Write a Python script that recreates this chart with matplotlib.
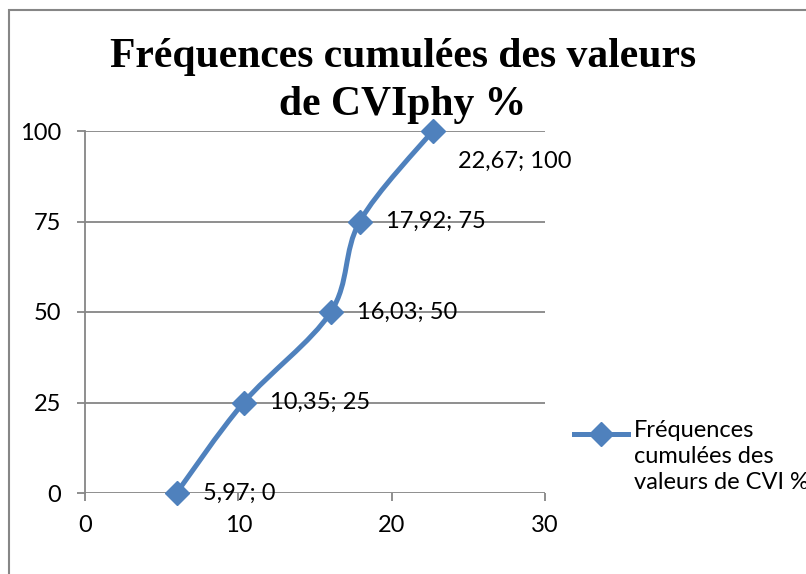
import matplotlib.pyplot as plt
from matplotlib.path import Path
from matplotlib.patches import PathPatch, Rectangle
from matplotlib.lines import Line2D

# values
cvi = [5.97, 10.35, 16.03, 17.92, 22.67]
freq = [0, 25, 50, 75, 100]
labels = ["5,97; 0", "10,35; 25", "16,03; 50", "17,92; 75", "22,67; 100"]
xticks = [0, 10, 20, 30]
yticks = [0, 25, 50, 75, 100]

title_lines = ["Fréquences cumulées des valeurs", "de CVIphy %"]
legend_text = "Fréquences\ncumulées des\nvaleurs de CVI %"

blue = "#4F81BD"
grey = "#868686"
plt.rcParams["font.family"] = ["Lato", "DejaVu Sans"]
fs = 17

fig = plt.figure(figsize=(8.06, 5.74), dpi=100)
ax = fig.add_axes([85 / 806, 1 - 493 / 574, 460 / 806, 362 / 574])

# outer chart frame (cut by the image edge)
fig.patches.append(Rectangle((9 / 806, -0.1), 1.2, 1 - 10 / 574 + 0.1,
                             transform=fig.transFigure, fill=False,
                             edgecolor=grey, lw=1.5))

# Excel-style smoothed line: bezier segments through the points
pts = list(zip(cvi, freq))
verts = [pts[0]]
codes = [Path.MOVETO]
n = len(pts)
for i in range(n - 1):
    p0 = pts[max(i - 1, 0)]
    p1 = pts[i]
    p2 = pts[i + 1]
    p3 = pts[min(i + 2, n - 1)]
    c1 = (p1[0] + (p2[0] - p0[0]) / 6, p1[1] + (p2[1] - p0[1]) / 6)
    c2 = (p2[0] - (p3[0] - p1[0]) / 6, p2[1] - (p3[1] - p1[1]) / 6)
    verts += [c1, c2, p2]
    codes += [Path.CURVE4] * 3
ax.add_patch(PathPatch(Path(verts, codes), fill=False, edgecolor=blue,
                       lw=3.6, capstyle="round", zorder=3, clip_on=False))
ax.plot(cvi, freq, ls="none", marker="D", ms=12, color=blue, zorder=4,
        clip_on=False)

for x, y, lab in zip(cvi, freq, labels):
    if y == 100:
        ax.annotate(lab, (x, y), xytext=(18, -22), textcoords="offset points",
                    fontsize=fs, va="center", ha="left")
    else:
        ax.annotate(lab, (x, y), xytext=(19, 0), textcoords="offset points",
                    fontsize=fs, va="center", ha="left")

ax.set_xlim(0, 30)
ax.set_ylim(0, 100)
ax.set_xticks(xticks)
ax.set_yticks(yticks)
ax.grid(axis="y", color=grey, lw=1.3)
ax.set_axisbelow(True)
for s in ["top", "right", "bottom"]:
    ax.spines[s].set_visible(False)
ax.spines["left"].set_color(grey)
ax.spines["left"].set_linewidth(1.3)
ax.tick_params(colors=grey, width=1.3, length=6, labelcolor="black",
               labelsize=fs)
ax.tick_params(axis="x", pad=10)
ax.tick_params(axis="y", pad=11)

fig.text(403 / 806, 1 - 67 / 574, title_lines[0], ha="center",
         va="baseline", fontsize=30, fontweight="bold",
         family="Liberation Serif")
fig.text(403 / 806, 1 - 115 / 574, title_lines[1], ha="center",
         va="baseline", fontsize=30, fontweight="bold",
         family="Liberation Serif")

# legend
fig.add_artist(Line2D([574 / 806, 628 / 806], [1 - 434 / 574] * 2,
                      transform=fig.transFigure, color=blue, lw=3.6))
fig.add_artist(Line2D([601 / 806], [1 - 434 / 574], transform=fig.transFigure,
                      color=blue, marker="D", ms=12, ls="none"))
fig.text(634 / 806, 1 - 420 / 574, legend_text, ha="left", va="top",
         fontsize=fs, linespacing=1.3)

fig.savefig("out.png", dpi=100)
